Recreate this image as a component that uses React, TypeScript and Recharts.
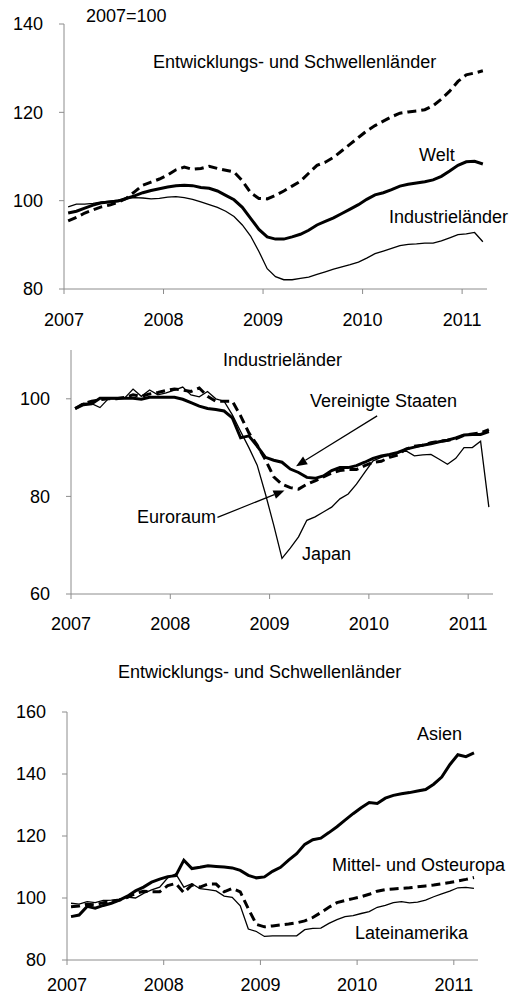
import React from "react"
import { LineChart, Line, XAxis, YAxis, ReferenceLine } from "recharts"

// month index 0 = Jan 2007, points drawn at mid-month
const years = ["2007", "2008", "2009", "2010", "2011"]
const yearTicks = [0, 12, 24, 36, 48]

// Panel 1: 2007=100
const welt = [97.2, 97.6, 98.3, 99.0, 99.5, 99.7, 99.9, 100.5, 101.1, 101.8, 102.3, 102.7, 103.1, 103.4, 103.5, 103.4, 103.0, 102.8, 102.2, 101.2, 100.2, 98.5, 96.0, 93.5, 91.8, 91.3, 91.3, 91.8, 92.4, 93.3, 94.5, 95.3, 96.1, 97.1, 98.1, 99.1, 100.3, 101.3, 101.8, 102.5, 103.3, 103.7, 104.0, 104.3, 104.7, 105.5, 106.7, 108.0, 108.8, 108.9, 108.3]
const schwellen = [95.4, 96.2, 97.2, 97.9, 98.6, 99.0, 99.6, 100.5, 102.0, 103.5, 104.2, 104.9, 105.8, 107.0, 107.6, 107.1, 107.3, 107.8, 107.3, 106.9, 106.5, 104.5, 101.8, 100.5, 100.4, 101.2, 102.2, 103.3, 104.4, 106.2, 108.0, 108.7, 109.8, 111.3, 112.8, 114.3, 115.8, 117.0, 118.0, 119.0, 119.8, 120.1, 120.3, 120.6, 121.5, 123.0, 124.8, 127.0, 128.5, 128.9, 129.4]
const industrie = [98.6, 99.2, 99.2, 99.4, 99.7, 99.9, 100.1, 100.5, 100.7, 100.6, 100.4, 100.5, 100.8, 100.9, 100.7, 100.3, 99.7, 99.1, 98.5, 97.6, 96.4, 94.5, 92.0, 88.5, 84.6, 82.8, 82.1, 82.1, 82.4, 82.7, 83.3, 83.9, 84.5, 85.0, 85.5, 86.1, 87.0, 88.0, 88.6, 89.2, 89.8, 90.1, 90.2, 90.4, 90.4, 90.9, 91.6, 92.3, 92.5, 92.8, 90.7]

// Panel 2: Industrielaender
const usa = [98.0, 98.8, 99.0, 100.1, 100.1, 100.1, 100.1, 100.1, 99.9, 100.3, 100.3, 100.3, 100.3, 99.9, 99.2, 98.5, 98.0, 97.8, 97.5, 96.1, 92.0, 92.4, 90.3, 88.0, 87.4, 87.0, 85.6, 84.9, 83.9, 83.7, 84.2, 85.3, 85.9, 85.9, 86.3, 87.0, 87.8, 88.3, 88.6, 89.0, 89.7, 90.1, 90.5, 90.8, 91.2, 91.5, 92.0, 92.6, 92.7, 92.7, 93.3]
const euro = [98.0, 99.0, 99.5, 99.8, 100.0, 100.0, 100.3, 100.8, 100.5, 101.0, 101.3, 101.7, 102.0, 101.8, 101.5, 102.2, 100.5, 99.5, 99.5, 99.5, 96.5, 93.0, 90.5, 87.5, 84.0, 82.5, 81.8, 81.5, 82.5, 83.2, 84.0, 84.8, 85.3, 85.5, 85.5, 86.3, 87.0, 87.2, 88.0, 88.5, 89.7, 90.3, 90.5, 91.0, 91.3, 91.5, 91.8, 92.5, 92.8, 93.0, 93.7]
const japan = [98.0, 99.1, 99.0, 98.2, 100.0, 100.0, 100.2, 102.0, 100.5, 101.8, 100.8, 101.2, 101.8, 102.4, 100.8, 100.4, 101.5, 100.0, 99.5, 96.7, 93.3, 90.0, 86.4, 80.5, 74.1, 67.3, 69.4, 71.7, 75.1, 75.8, 76.8, 77.8, 79.5, 80.5, 82.5, 84.9, 87.3, 88.0, 88.5, 89.0, 89.3, 88.3, 88.5, 88.6, 87.6, 86.6, 87.8, 90.0, 90.0, 91.3, 77.8]

// Panel 3: Entwicklungs- und Schwellenlaender
const asien = [94.0, 94.5, 97.3, 96.7, 97.6, 98.3, 99.3, 100.6, 102.3, 103.5, 105.1, 106.1, 106.9, 107.2, 112.2, 109.5, 109.9, 110.4, 110.2, 110.0, 109.7, 108.9, 107.3, 106.5, 106.8, 108.6, 109.9, 112.2, 114.3, 117.3, 118.8, 119.3, 121.1, 123.0, 125.1, 127.2, 129.1, 130.8, 130.5, 132.2, 133.1, 133.6, 134.0, 134.5, 135.0, 136.7, 139.0, 143.0, 146.2, 145.6, 146.8]
const osteuropa = [97.2, 97.4, 98.0, 97.8, 98.5, 98.8, 99.3, 100.2, 101.5, 102.2, 102.0, 102.0, 104.0, 104.7, 101.7, 104.2, 103.5, 104.5, 104.5, 102.0, 103.1, 102.0, 96.5, 91.5, 90.7, 91.0, 91.3, 91.6, 92.0, 92.6, 93.7, 95.3, 97.0, 98.5, 99.2, 99.8, 100.4, 101.2, 102.2, 102.7, 102.9, 103.1, 103.3, 103.6, 103.9, 104.2, 104.6, 105.0, 105.5, 106.0, 106.6]
const latein = [98.3, 98.0, 98.8, 98.5, 99.2, 99.3, 99.6, 100.3, 100.0, 101.5, 102.6, 103.5, 106.5, 107.8, 103.5, 104.6, 103.0, 102.7, 102.3, 100.6, 100.2, 97.5, 90.0, 89.2, 87.6, 87.8, 87.8, 87.8, 87.8, 89.8, 90.2, 90.3, 91.8, 93.0, 94.0, 94.3, 95.0, 95.6, 97.0, 97.6, 98.5, 98.8, 98.4, 98.7, 99.3, 100.4, 101.3, 102.2, 103.3, 103.4, 103.1]

const toRows = (a: number[], b: number[], c: number[]) =>
  a.map((v, i) => ({ m: i + 0.5, a: v, b: b[i], c: c[i] }))

const data1 = toRows(welt, schwellen, industrie)
const data2 = toRows(usa, euro, japan)
const data3 = toRows(asien, osteuropa, latein)

const FONT = "'Liberation Sans', Arial, sans-serif"
const AXIS = "#8c8c8c"

const Arrow = (p: any) => {
  const { x1, y1, x2, y2 } = p
  const ang = Math.atan2(y2 - y1, x2 - x1)
  const L = 11
  const W = 4.5
  const bx = x2 - L * Math.cos(ang)
  const by = y2 - L * Math.sin(ang)
  const px = -Math.sin(ang) * W
  const py = Math.cos(ang) * W
  return (
    <g>
      <line x1={x1} y1={y1} x2={bx} y2={by} stroke="#000" strokeWidth={1.2} />
      <polygon points={`${x2},${y2} ${bx + px},${by + py} ${bx - px},${by - py}`} fill="#000" />
    </g>
  )
}

function Label({ x, y, children }: { x: number; y: number; children: React.ReactNode }) {
  return (
    <div
      style={{
        position: "absolute",
        left: x,
        top: y,
        fontFamily: FONT,
        fontSize: 18,
        lineHeight: "18px",
        color: "#000",
        whiteSpace: "nowrap",
      }}
    >
      {children}
    </div>
  )
}

function Panel({
  data,
  top,
  height,
  margin,
  domain,
  ticks,
  xMargin,
  children,
}: {
  data: any[]
  top: number
  height: number
  margin: { top: number; right: number; left: number; bottom: number }
  domain: [number, number]
  ticks: number[]
  xMargin: number
  children?: React.ReactNode
}) {
  return (
    <div style={{ position: "absolute", left: 0, top }}>
      <LineChart width={517} height={height} data={data} margin={margin}>
        <XAxis
          dataKey="m"
          type="number"
          domain={[0, 51]}
          ticks={yearTicks}
          tickFormatter={(v) => years[v / 12]}
          interval={0}
          height={40}
          stroke={AXIS}
          tickSize={5}
          tickMargin={xMargin}
          tick={{ fill: "#000", fontSize: 18, fontFamily: FONT }}
        />
        <YAxis
          type="number"
          domain={domain}
          ticks={ticks}
          interval={0}
          width={60}
          stroke={AXIS}
          tickSize={5}
          tickMargin={16}
          tick={{ fill: "#000", fontSize: 18, fontFamily: FONT }}
        />
        <Line type="linear" dataKey="c" stroke="#000" strokeWidth={1.3} dot={false} isAnimationActive={false} />
        <Line type="linear" dataKey="b" stroke="#000" strokeWidth={3} strokeDasharray="9 5" dot={false} isAnimationActive={false} />
        <Line type="linear" dataKey="a" stroke="#000" strokeWidth={3} dot={false} isAnimationActive={false} />
        {children}
      </LineChart>
    </div>
  )
}

export default function App() {
  return (
    <div style={{ position: "absolute", left: 0, top: 0, width: 517, height: 1003, background: "#fff" }}>
      <Panel
        data={data1}
        top={0}
        height={340}
        margin={{ top: 24, right: 30, left: 4, bottom: 11 }}
        domain={[80, 140]}
        ticks={[80, 100, 120, 140]}
        xMargin={19}
      />
      <Panel
        data={data2}
        top={330}
        height={330}
        margin={{ top: 20, right: 24, left: 11, bottom: 26 }}
        domain={[60, 110]}
        ticks={[60, 80, 100]}
        xMargin={18}
      >
        <ReferenceLine segment={[{ x: 37.0, y: 96.5 }, { x: 27.2, y: 86.2 }]} shape={Arrow} />
        <ReferenceLine segment={[{ x: 17.7, y: 75.7 }, { x: 25.8, y: 81.2 }]} shape={Arrow} />
      </Panel>
      <Panel
        data={data3}
        top={690}
        height={313}
        margin={{ top: 22, right: 39, left: 7, bottom: 3 }}
        domain={[80, 160]}
        ticks={[80, 100, 120, 140, 160]}
        xMargin={13}
      />

      <Label x={86} y={7}>2007=100</Label>
      <Label x={153} y={53}>Entwicklungs- und Schwellenländer</Label>
      <Label x={419} y={146}>Welt</Label>
      <Label x={389} y={208}>Industrieländer</Label>

      <Label x={223} y={351}>Industrieländer</Label>
      <Label x={310} y={392}>Vereinigte Staaten</Label>
      <Label x={137} y={508}>Euroraum</Label>
      <Label x={302} y={545}>Japan</Label>

      <Label x={118} y={663}>Entwicklungs- und Schwellenländer</Label>
      <Label x={417} y={725}>Asien</Label>
      <Label x={332} y={856}>Mittel- und Osteuropa</Label>
      <Label x={355} y={924}>Lateinamerika</Label>
    </div>
  )
}
